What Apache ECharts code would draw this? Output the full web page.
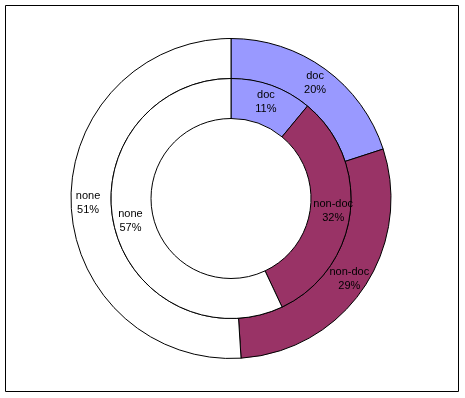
<!DOCTYPE html>
<html style="height: 100%">
<head>
    <meta charset="UTF-8">
    <title>doc / non-doc / none</title>
</head>
<body style="height: 100%; margin: 0; background: #fff">
    <div id="container" style="width: 465px; height: 398px"></div>

    <script src="https://cdn.jsdelivr.net/npm/echarts@6/dist/echarts.min.js"></script>

    <script type="text/javascript">
        // categories and values (percent)
        var categories = ['doc', 'non-doc', 'none'];
        var outerValues = [20, 29, 51];
        var innerValues = [11, 32, 57];
        var colors = ['#9999FF', '#993366', '#FFFFFF'];

        function buildData(values) {
            var list = [];
            for (var i = 0; i < categories.length; i++) {
                list.push({name: categories[i], value: values[i]});
            }
            return list;
        }

        var dom = document.getElementById('container');
        var myChart = echarts.init(dom);

        var ring = function (radius, values) {
            return {
                type: 'pie',
                center: [231, 198.5],
                radius: radius,
                startAngle: 90,
                clockwise: true,
                silent: true,
                data: buildData(values),
                itemStyle: {borderColor: '#000', borderWidth: 1},
                label: {
                    position: 'inside',
                    formatter: '{b}\n{c}%',
                    fontFamily: 'Liberation Sans, Arial, sans-serif',
                    fontSize: 11,
                    lineHeight: 14,
                    color: '#000'
                },
                labelLine: {show: false}
            };
        };

        var option = {
            animation: false,
            color: colors,
            graphic: [{
                type: 'rect',
                shape: {x: 5.5, y: 5.5, width: 453, height: 386},
                style: {fill: 'none', stroke: '#000', lineWidth: 1}
            }],
            series: [
                ring([120, 160], outerValues),
                ring([80, 120], innerValues)
            ]
        };

        myChart.setOption(option, true);
    </script>
</body>
</html>
